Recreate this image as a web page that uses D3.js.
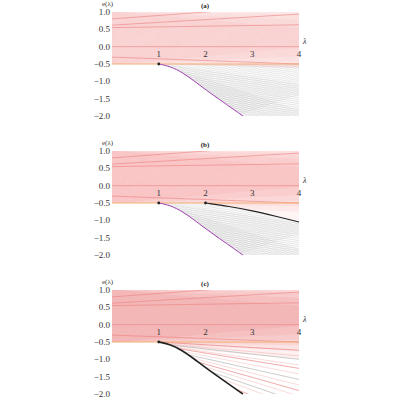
<!DOCTYPE html>
<html><head><meta charset="utf-8">
<script src="https://cdn.jsdelivr.net/npm/d3@7"></script>
<style>body{margin:0;background:#fff}</style>
</head><body><svg id="c" width="400" height="400"></svg>
<script>
const panels = ["(a)", "(b)", "(c)"];
const yTicks = [1.0, 0.5, 0.0, -0.5, -1.0, -1.5, -2.0];
const xTicks = [1, 2, 3, 4];
// lower boundary (purple / black) curve
const edgeL = [1, 1.25, 1.5, 1.75, 2, 2.4, 2.8, 3.2];
const edgeE = [-0.5, -0.57, -0.74, -0.98, -1.24, -1.62, -2.0, -2.4];
// panel (b) black branch
const branchL = [2, 2.5, 3, 3.5, 4];
const branchE = [-0.5, -0.6, -0.72, -0.88, -1.05];
// red fan lines: e = a + b*λ
const redA = [-0.5,-0.47,-0.44,-0.41,-0.38,-0.35,-0.32,-0.29,-0.26,-0.23,-0.2,-0.17,-0.14,-0.11,-0.08,-0.05,-0.02,0.01,0.04,0.07,0.1,0.13,0.16,0.19,0.22,0.25,0.28,0.31,0.34,0.37,0.4,0.43,0.46,0.49,0.52,0.55,0.58,0.61,0.64,0.67,0.7,0.73,0.76,0.79,0.82,0.85,0.88,0.91,0.94,0.97,1.0];
const redB = [-0.12,-0.06,-0.02,0.02,0.06,0.12];
const darkRed = [[0.55,0.02],[0.8,0.1],[0.0,0.0],[0.62,0.08],[-0.3,-0.05]];
// gray hatch lines: e = a + b*(λ-1)
const grayA = [-0.5,-0.56,-0.62,-0.68,-0.74,-0.8,-0.86,-0.92,-0.98,-1.04,-1.1,-1.16,-1.22,-1.28,-1.34,-1.4,-1.46,-1.52,-1.58,-1.64,-1.7,-1.76,-1.82,-1.88,-1.94,-2.0,-2.06,-2.12,-2.18,-2.24,-2.3,-2.36,-2.42,-2.48,-2.54,-2.6,-2.66,-2.72];
const grayB = [-0.45,-0.2,0.2,0.45];
// panel (c) red lines below -0.5
const lowA = [-0.5,-0.55,-0.6,-0.68,-0.76,-0.85,-0.95,-1.05,-1.15];
const lowB = [-0.08,-0.15,-0.22,-0.3,-0.38,-0.46,-0.55,-0.62,-0.7];

const svg = d3.select("#c");
const FONT = "'Liberation Serif', 'DejaVu Serif', serif";
const x = d3.scaleLinear().domain([0, 4]).range([112, 299]);
const tops = [12, 151, 290];

panels.forEach((name, pi) => {
  const y = d3.scaleLinear().domain([1, -2]).range([tops[pi], tops[pi] + 104]);
  const g = svg.append("g");
  const line = d3.line().x(d => x(d[0])).y(d => y(d[1]));
  const curve = d3.line().x(d => x(d[0])).y(d => y(d[1])).curve(d3.curveBasis);
  const edge = edgeL.map((l, i) => [l, edgeE[i]]);
  const branch = branchL.map((l, i) => [l, branchE[i]]);

  const redPoly = pi === 0 ? [[0,1],[4,1],[4,-0.62],[1,-0.5],[0,-0.5]]
    : pi === 1 ? [[0,1],[4,1]].concat(branch.slice().reverse()).concat([[0,-0.5]])
    : [[0,1],[4,1],[4,-2],[2.8,-2]].concat(edge.filter(d => d[0] <= 2.8).reverse()).concat([[0,-0.5]]);
  const grayPoly = pi === 0 ? [[1,-0.5],[4,-0.5],[4,-2]].concat(edge.filter(d => d[0] <= 2.8).reverse())
    : [[1,-0.5],[2,-0.5]].concat(branch).concat([[4,-2]]).concat(edge.filter(d => d[0] <= 2.8).reverse());
  const id = "p" + pi;
  const defs = g.append("defs");
  defs.append("clipPath").attr("id", id + "r").append("path").attr("d", line(redPoly) + "Z");
  defs.append("clipPath").attr("id", id + "g").append("path").attr("d", line(grayPoly) + "Z");

  if (pi < 2) {
    const gg = g.append("g").attr("clip-path", `url(#${id}g)`);
    grayA.forEach(a => grayB.forEach(b => {
      gg.append("path").attr("d", line([[1, a], [4, a + 3 * b]]))
        .attr("stroke", "rgba(150,150,150,0.35)").attr("stroke-width", 0.4).attr("fill", "none");
    }));
  }
  const rg = g.append("g").attr("clip-path", `url(#${id}r)`);
  const dens = pi === 0 ? 0.1 : pi === 1 ? 0.14 : 0.2;
  redA.forEach(a => redB.forEach(b => {
    rg.append("path").attr("d", line([[0, a], [4, a + 4 * b]]))
      .attr("stroke", `rgba(235,100,100,${dens})`).attr("stroke-width", 0.5).attr("fill", "none");
  }));
  if (pi === 2) {
    lowA.forEach((a, i) => {
      rg.append("path").attr("d", line([[1, a], [4, a + 3 * lowB[i]]]))
        .attr("stroke", i % 2 ? "#aaa" : "#e87070").attr("stroke-width", 0.6).attr("fill", "none");
      rg.append("path").attr("d", line([[1, a - 0.04], [4, a - 0.04 + 3 * (lowB[i] - 0.04)]]))
        .attr("stroke", "rgba(230,110,110,0.5)").attr("stroke-width", 0.5).attr("fill", "none");
    });
  }
  darkRed.forEach(([a, b]) => {
    rg.append("path").attr("d", line([[0, a], [4, a + 4 * b]]))
      .attr("stroke", "#ec8080").attr("stroke-width", 0.6).attr("fill", "none");
  });

  g.append("path").attr("d", line([[0, -0.5], [4, -0.5]]))
    .attr("stroke", "#f2a868").attr("stroke-width", 0.9).attr("fill", "none");

  g.append("path").attr("d", curve(edge.filter(d => d[0] <= 2.8)))
    .attr("stroke", pi === 2 ? "#222" : "#a040b0").attr("stroke-width", pi === 2 ? 1.6 : 1).attr("fill", "none");
  if (pi === 1) {
    g.append("path").attr("d", curve(branch))
      .attr("stroke", "#222").attr("stroke-width", 1.1).attr("fill", "none");
    g.append("circle").attr("cx", x(2)).attr("cy", y(-0.5)).attr("r", 1.4).attr("fill", "#222");
  }
  g.append("circle").attr("cx", x(1)).attr("cy", y(-0.5)).attr("r", 1.4).attr("fill", "#222");

  g.selectAll(".yt").data(yTicks).join("text")
    .attr("font-family", FONT)
    .attr("x", x(0) - 2).attr("y", d => y(d) + 3).attr("text-anchor", "end")
    .attr("font-size", 9).attr("fill", "#333").text(d => d.toFixed(1).replace("-", "−"));
  g.selectAll(".xt").data(xTicks).join("text")
    .attr("font-family", FONT)
    .attr("x", d => x(d)).attr("y", y(-0.2) + 3).attr("text-anchor", "middle")
    .attr("font-size", 9).attr("fill", "#333").text(d => d);
  g.append("text").attr("font-family", FONT).attr("x", x(4) + 4).attr("y", y(0) - 3).attr("font-size", 8)
    .attr("font-style", "italic").attr("fill", "#333").text("λ");
  g.append("text").attr("font-family", FONT).attr("x", x(0) - 10).attr("y", y(1) - 6.5).attr("font-size", 7)
    .attr("fill", "#333").text("e(λ)");
  g.append("text").attr("font-family", FONT).attr("x", 205).attr("y", y(1) - 4).attr("text-anchor", "middle")
    .attr("font-size", 7).attr("font-weight", "bold").attr("fill", "#222").text(name);
});
</script></body></html>
